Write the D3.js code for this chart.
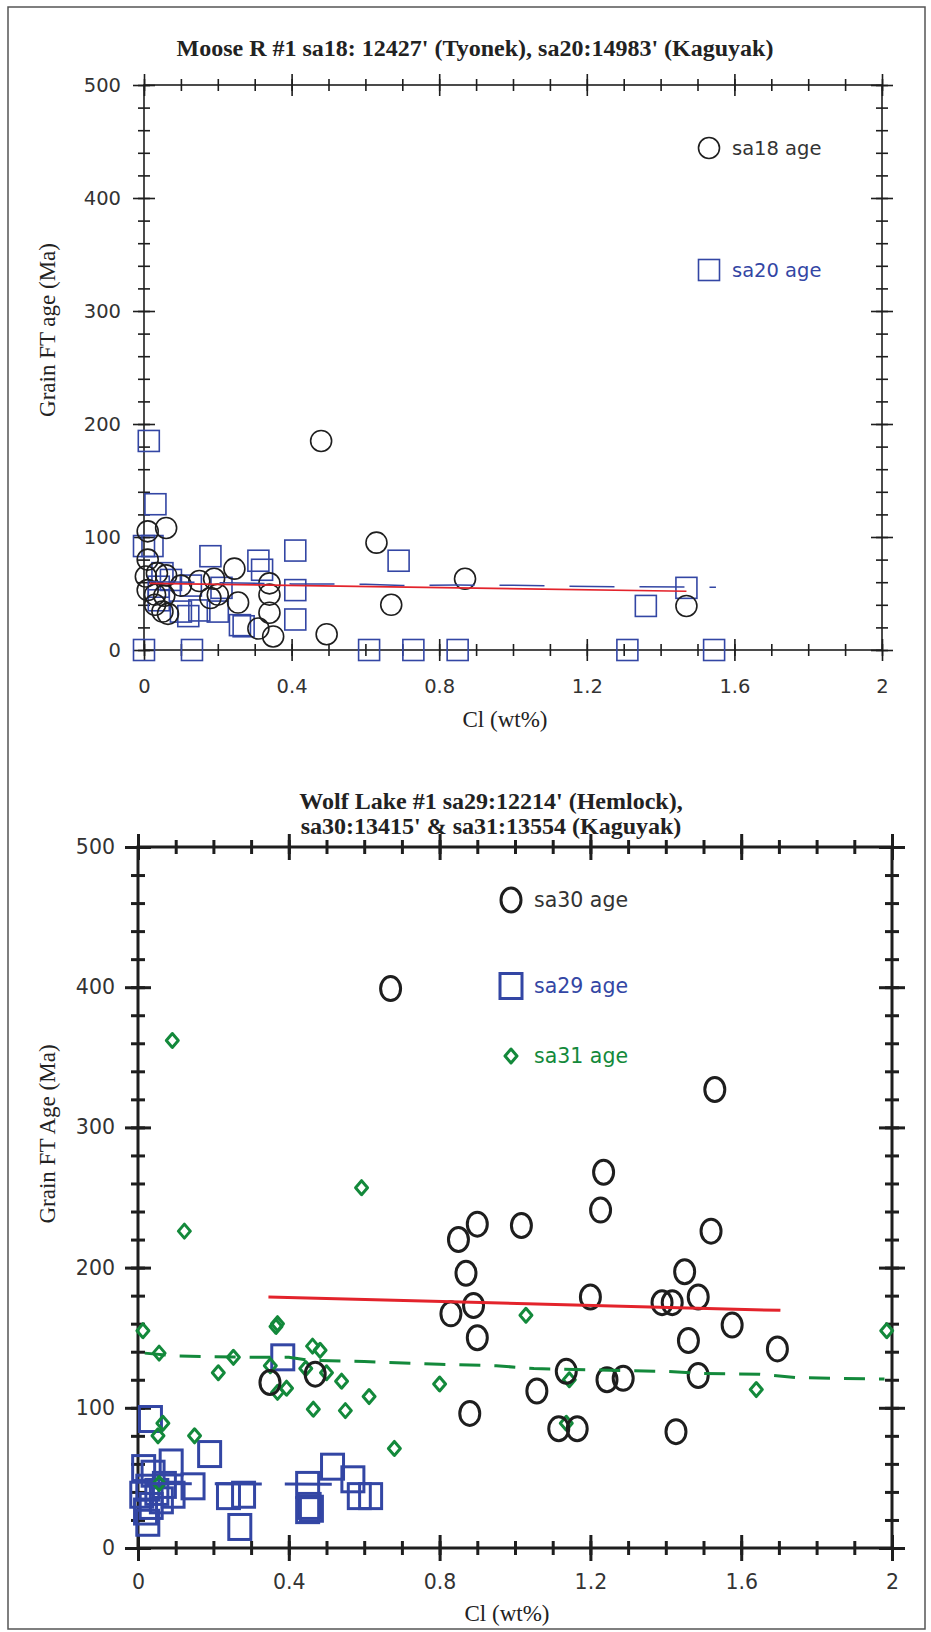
<!DOCTYPE html>
<html lang="en">
<head>
    <meta charset="UTF-8">
    <title>Grain FT age vs Cl</title>
    <script src="https://cdn.jsdelivr.net/npm/d3@7/dist/d3.min.js"></script>
    <style>
        body { margin: 0; background: #fff; }
        svg { display: block; }
    </style>
</head>
<body>
    <script>
        // ---- data (Cl wt%, age Ma) ----
        var xTickValues = [0, 0.4, 0.8, 1.2, 1.6, 2];
        var xTickLabels = ["0", "0.4", "0.8", "1.2", "1.6", "2"];
        var yTickValues = [0, 100, 200, 300, 400, 500];
        var yTickLabels = ["0", "100", "200", "300", "400", "500"];

        // Moose R #1
        var sa18 = [[0.01,105],[0.06,108],[0.01,80],[0.005,65],[0.035,68],[0.06,66],[0.01,53],[0.03,49],
                    [0.055,48],[0.03,40],[0.05,34],[0.065,32],[0.1,57],[0.15,61],[0.19,63],[0.245,72],
                    [0.18,46],[0.2,49],[0.255,42],[0.34,59],[0.34,49],[0.34,33],[0.31,19],[0.35,12],
                    [0.48,185],[0.495,14],[0.63,95],[0.67,40],[0.87,63],[1.47,39]];
        var sa20 = [[0.013,185],[0.031,129],[0,92],[0.023,92],[0.18,83],[0.31,79],[0.32,71],[0.41,88],
                    [0.69,79],[0.41,53],[0.41,27],[0.05,68],[0.04,56],[0.073,62],[0.127,57],[0.21,55],
                    [0.04,44],[0.1,34],[0.12,30],[0.15,35],[0.2,34],[0.26,22],[0.27,21],[0,0],[0.13,0],
                    [0.61,0],[0.73,0],[0.85,0],[1.31,0],[1.545,0],[1.47,55],[1.36,39]];
        var sa18Trend = [[0.015,59],[1.47,52]];
        var sa20Trend = [[0.015,60.5],[0.4,58.5],[0.6,58.2],[0.7,57],[0.85,57.5],[1.0,57.2],
                         [1.15,56.5],[1.3,56],[1.55,55.5]];

        // Wolf Lake #1
        var sa30 = [[0.35,118],[0.47,124],[0.67,399],[0.83,167],[0.85,220],[0.87,196],[0.89,173],[0.9,231],
                    [0.9,150],[0.88,96],[1.017,230],[1.058,112],[1.116,85],[1.136,126],[1.165,85],[1.2,179],
                    [1.227,241],[1.235,268],[1.244,120],[1.287,121],[1.39,175],[1.417,175],[1.427,83],
                    [1.46,148],[1.45,197],[1.486,179],[1.486,123],[1.52,226],[1.53,327],[1.576,159],[1.696,142]];
        var sa29 = [[0.033,92],[0.19,67],[0.088,61],[0.015,57],[0.04,53],[0.026,43],[0.146,44],[0.093,38],
                    [0.035,30],[0.026,18],[0.07,45],[0.062,34],[0.24,37],[0.28,38],[0.27,15],[0.384,136],
                    [0.516,58],[0.57,49],[0.617,37],[0.587,37],[0.45,45],[0.454,30],[0.46,28],[0.45,27],
                    [0.01,38],[0.02,26],[0.05,40]];
        var sa31 = [[0.013,155],[0.056,139],[0.091,362],[0.123,226],[0.593,257],[0.253,136],[0.213,125],
                    [0.366,158],[0.37,160],[0.351,130],[0.37,111],[0.394,114],[0.445,128],[0.463,144],
                    [0.483,141],[0.5,125],[0.54,119],[0.465,99],[0.55,98],[0.613,108],[0.68,71],[0.8,117],
                    [0.066,89],[0.053,80],[0.15,80],[0.056,46],[1.029,166],[1.144,120],[1.136,89],
                    [1.64,113],[1.986,155]];
        var sa30Trend = [[0.346,179],[1.704,169.5]];
        var sa29Trend = [[0.018,46],[0.52,45.5]];
        var sa31Trend = [[0.018,139],[0.1,137],[0.3,136],[0.4,136],[0.45,134],[0.6,133],[0.8,131],[0.95,130],
                         [1.05,128],[1.2,127],[1.4,126],[1.5,124.5],[1.65,124],[1.75,121.5],[1.98,120.5]];

        var black = "#1e1e1e", blue = "#3346a4", red = "#e3232b", green = "#13893b";

        var width = 931, height = 1632;
        var svg = d3.select("body").append("svg").attr("width", width).attr("height", height);

        // outer frame
        svg.append("rect").attr("x", 8).attr("y", 7).attr("width", 917).attr("height", 1622)
            .attr("fill", "none").attr("stroke", "#555").attr("stroke-width", 1.5);

        function drawMarker(m, s) {
            if (s.shape === "circle") {
                m.append("ellipse").attr("rx", s.w).attr("ry", s.h).attr("fill", "none")
                    .attr("stroke", s.color).attr("stroke-width", s.sw);
            } else if (s.shape === "square") {
                m.append("rect").attr("x", -s.w).attr("y", -s.h)
                    .attr("width", 2 * s.w).attr("height", 2 * s.h)
                    .attr("fill", "none").attr("stroke", s.color).attr("stroke-width", s.sw);
            } else {
                m.append("path").attr("d", "M0," + (-s.h) + "L" + s.w + ",0L0," + s.h + "L" + (-s.w) + ",0Z")
                    .attr("fill", "none").attr("stroke", s.color).attr("stroke-width", s.sw)
                    .attr("stroke-linejoin", "round");
            }
        }

        function drawPanel(p) {
            var x = d3.scaleLinear().domain([0, 2]).range([p.left, p.right]);
            var y = d3.scaleLinear().domain([0, 500]).range([p.bottom, p.top]);
            var g = svg.append("g");
            var minorX = d3.range(0, 2.0001, 0.1);
            var minorY = d3.range(0, 500.1, 20);

            // crossing ticks on all four sides
            function ticks(axisFn, scale, vals, len, pos, horizontal) {
                var a = g.append("g").attr("transform", horizontal ? "translate(0," + pos + ")" : "translate(" + pos + ",0)")
                    .call(axisFn(scale).tickValues(vals).tickFormat("").tickSizeInner(len).tickSizeOuter(0));
                a.select(".domain").remove();
                a.selectAll(".tick line").attr("stroke", black).attr("stroke-width", p.sw);
                if (horizontal) a.selectAll(".tick line").attr("y1", -len).attr("y2", len);
                else a.selectAll(".tick line").attr("x1", -len).attr("x2", len);
            }
            [p.bottom, p.top].forEach(function (pos) {
                ticks(d3.axisBottom, x, minorX, p.minor, pos, true);
                ticks(d3.axisBottom, x, xTickValues, p.major, pos, true);
            });
            [p.left, p.right].forEach(function (pos) {
                ticks(d3.axisLeft, y, minorY, p.minor, pos, false);
                ticks(d3.axisLeft, y, yTickValues, p.major, pos, false);
            });

            // frame lines
            g.append("rect").attr("x", p.left).attr("y", p.top)
                .attr("width", p.right - p.left).attr("height", p.bottom - p.top)
                .attr("fill", "none").attr("stroke", black).attr("stroke-width", p.sw);

            // tick labels
            var xa = g.append("g").attr("transform", "translate(0," + p.bottom + ")")
                .call(d3.axisBottom(x).tickValues(xTickValues).tickSize(0)
                    .tickFormat(function (d, i) { return xTickLabels[i]; }));
            xa.select(".domain").remove();
            xa.selectAll("text").attr("y", p.xLabelGap);
            var ya = g.append("g").attr("transform", "translate(" + p.left + ",0)")
                .call(d3.axisLeft(y).tickValues(yTickValues).tickSize(0).tickPadding(23)
                    .tickFormat(function (d, i) { return yTickLabels[i]; }));
            ya.select(".domain").remove();
            g.selectAll(".tick text").attr("font-family", "'DejaVu Sans', Verdana, sans-serif")
                .attr("font-size", p.fs).attr("fill", "#333");

            // titles
            var t = g.append("text").attr("text-anchor", "middle")
                .attr("font-family", "'Liberation Serif', 'Times New Roman', serif")
                .attr("font-weight", "bold").attr("font-size", 24).attr("fill", "#222");
            p.title.forEach(function (line, i) {
                t.append("tspan").attr("x", p.titleX).attr("y", p.titleY + i * 25).text(line);
            });
            g.append("text").attr("x", p.xTitleX).attr("y", p.xTitleY).attr("text-anchor", "middle")
                .attr("font-family", "'Liberation Serif', 'Times New Roman', serif")
                .attr("font-size", 23).attr("fill", "#222").text("Cl (wt%)");
            g.append("text").attr("transform", "translate(47," + p.yTitleY + ") rotate(-90)")
                .attr("text-anchor", "middle").attr("dy", "0.35em")
                .attr("font-family", "'Liberation Serif', 'Times New Roman', serif")
                .attr("font-size", 23).attr("fill", "#222").text(p.yTitle);

            var line = d3.line().x(function (d) { return x(d[0]); }).y(function (d) { return y(d[1]); });

            // markers
            p.series.forEach(function (s) {
                var mg = g.append("g");
                s.data.forEach(function (d) {
                    var m = mg.append("g").attr("transform", "translate(" + x(d[0]) + "," + y(d[1]) + ")");
                    drawMarker(m, s);
                });
            });
            // trend lines
            p.trends.forEach(function (tr) {
                g.append("path").datum(tr.data).attr("d", line).attr("fill", "none")
                    .attr("stroke", tr.color).attr("stroke-width", tr.sw)
                    .attr("stroke-dasharray", tr.dash || null);
            });

            // legend
            p.legend.forEach(function (l) {
                var m = g.append("g").attr("transform", "translate(" + l.x + "," + l.y + ")");
                drawMarker(m, l.s);
                g.append("text").attr("x", l.x + 23).attr("y", l.y).attr("dy", "0.35em")
                    .attr("font-family", "'DejaVu Sans', Verdana, sans-serif").attr("font-size", p.fs)
                    .attr("fill", l.s.text || l.s.color).text(l.label);
            });
        }

        // top panel
        var s18 = { data: sa18, shape: "circle", w: 10.5, h: 10.5, color: black, sw: 1.6, text: "#333" };
        var s20 = { data: sa20, shape: "square", w: 10.5, h: 10.5, color: blue, sw: 1.6 };
        drawPanel({
            left: 144, right: 882, top: 85, bottom: 650, sw: 1.6, major: 11, minor: 6, xLabelGap: 29, fs: 19.5,
            title: ["Moose R #1 sa18: 12427' (Tyonek), sa20:14983' (Kaguyak)"], titleX: 475, titleY: 56,
            xTitleX: 505, xTitleY: 727, yTitle: "Grain FT age (Ma)", yTitleY: 330,
            series: [s20, s18],
            trends: [
                { data: sa20Trend, color: blue, sw: 1.5, dash: "45,25" },
                { data: sa18Trend, color: red, sw: 1.6 }
            ],
            legend: [
                { x: 709, y: 148, s: s18, label: "sa18 age" },
                { x: 709, y: 270, s: s20, label: "sa20 age" }
            ]
        });

        // bottom panel
        var s30 = { data: sa30, shape: "circle", w: 10, h: 12, color: black, sw: 3, text: "#333" };
        var s29 = { data: sa29, shape: "square", w: 11, h: 12.5, color: blue, sw: 3 };
        var s31 = { data: sa31, shape: "diamond", w: 6, h: 7, color: green, sw: 3 };
        drawPanel({
            left: 138, right: 892, top: 847, bottom: 1548, sw: 3, major: 13, minor: 7, xLabelGap: 26, fs: 20.5,
            title: ["Wolf Lake #1 sa29:12214' (Hemlock),", "sa30:13415' & sa31:13554 (Kaguyak)"],
            titleX: 491, titleY: 809,
            xTitleX: 507, xTitleY: 1621, yTitle: "Grain FT Age (Ma)", yTitleY: 1134,
            series: [s29, s31, s30],
            trends: [
                { data: sa29Trend, color: blue, sw: 3, dash: "47,23" },
                { data: sa31Trend, color: green, sw: 3, dash: "21,14" },
                { data: sa30Trend, color: red, sw: 3 }
            ],
            legend: [
                { x: 511, y: 900, s: s30, label: "sa30 age" },
                { x: 511, y: 986, s: s29, label: "sa29 age" },
                { x: 511, y: 1056, s: s31, label: "sa31 age" }
            ]
        });
    </script>
</body>
</html>
